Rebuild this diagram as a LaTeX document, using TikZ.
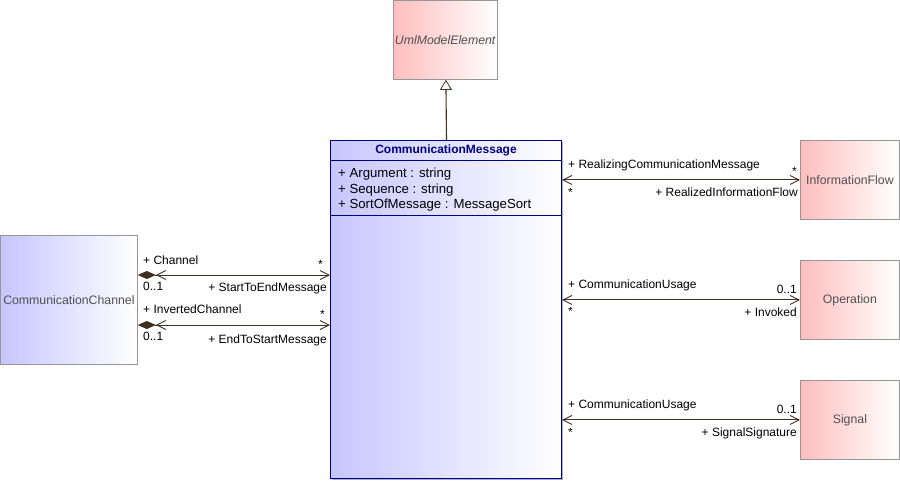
\documentclass[tikz,border=0pt]{standalone}
\usepackage{fontspec}
\setmainfont{Liberation Sans}
\usetikzlibrary{arrows.meta,calc,shadows}
\definecolor{conn}{RGB}{64,48,32}
\definecolor{pinkL}{RGB}{255,190,190}
\definecolor{blueL}{RGB}{198,198,255}
\definecolor{navyc}{RGB}{0,0,128}
\definecolor{txtgray}{RGB}{80,80,80}
\definecolor{boxgray}{RGB}{150,150,150}
\definecolor{shadc}{RGB}{150,150,210}
\begin{document}
\begin{tikzpicture}[x=1pt,y=-1pt,
  cls/.style={draw=boxgray, line width=0.8pt, anchor=north west, inner sep=0pt,
    font=\fontsize{12.3}{14}\selectfont, text=txtgray},
  pinkbox/.style={cls, left color=pinkL, right color=white},
  bluebox/.style={cls, left color=blueL, right color=white},
  msgbox/.style={bluebox, draw=navyc, line width=1pt,
    drop shadow={shadow xshift=1.5pt, shadow yshift=-1.5pt, fill=shadc, opacity=0.8}},
  assoc/.style={draw=conn, line width=0.9pt},
  barb/.tip={Straight Barb[length=9pt,width=9pt,line width=0.9pt]},
  lbl/.style={font=\fontsize{12}{14}\selectfont, inner sep=0pt, text=black},
  attr/.style={font=\fontsize{13.2}{15}\selectfont, inner sep=0pt, text=black, anchor=base west},
]
\useasboundingbox (0,0) rectangle (900,480);

% classes
\node[pinkbox, minimum width=104pt, minimum height=79pt] (uml) at (393,0) {\textit{UmlModelElement}};
\node[msgbox, minimum width=231pt, minimum height=338pt] (msg) at (330,140) {};
\node[pinkbox, minimum width=99pt, minimum height=79pt] (info) at (800,140) {InformationFlow};
\node[pinkbox, minimum width=99pt, minimum height=79pt] (oper) at (800,260) {Operation};
\node[pinkbox, minimum width=99pt, minimum height=79pt] (sig) at (800,380) {Signal};
\node[bluebox, minimum width=137pt, minimum height=129pt] (chan) at (0,235) {CommunicationChannel};

% compartments of CommunicationMessage
\draw[navyc, line width=0.8pt] ($(msg.north west)+(0,20)$) -- ($(msg.north east)+(0,20)$);
\draw[navyc, line width=0.8pt] ($(msg.north west)+(0,75)$) -- ($(msg.north east)+(0,75)$);
\node[font=\bfseries\fontsize{12}{14}\selectfont, text=navyc, inner sep=0pt] (title) at ($(msg.north)+(0,10)$) {CommunicationMessage};
\node[attr] (a1) at (338,177.5) {+ Argument : string};
\node[attr] (a2) at (338,193) {+ Sequence : string};
\node[attr] (a3) at (338,208.5) {+ SortOfMessage : MessageSort};

% generalization
\draw[assoc, line width=1.1pt, -{Triangle[open,length=10pt,width=12pt,fill=white,line width=0.8pt]}] ($(msg.north)+(0.5,0)$) -- ($(uml.south)+(0.5,0)$);

% associations
\draw[assoc, barb-barb] (msg.east |- info.west) -- (info.west);
\draw[assoc, barb-barb] (msg.east |- oper.west) -- (oper.west);
\draw[assoc, barb-barb] (msg.east |- sig.west) -- (sig.west);
\draw[assoc, {Diamond[length=18pt,width=8pt,fill=conn,line width=0.8pt] barb}-barb] (chan.east |- 0,275) -- (msg.west |- 0,275);
\draw[assoc, {Diamond[length=18pt,width=8pt,fill=conn,line width=0.8pt] barb}-barb] (chan.east |- 0,325) -- (msg.west |- 0,325);

% labels: InformationFlow
\node[lbl, anchor=base west] (l1) at (568,168.5) {+ RealizingCommunicationMessage};
\node[lbl, anchor=base east] (l2) at (797,175.5) {*};
\node[lbl, anchor=base west] (l3) at (568,196.5) {*};
\node[lbl, anchor=base east] (l4) at (798,196) {+ RealizedInformationFlow};

% labels: Channel
\node[lbl, anchor=base west] (l5) at (143,264.5) {+ Channel};
\node[lbl, anchor=base east] (l6) at (323,268.5) {*};
\node[lbl, anchor=base west] (l7) at (143,290) {0..1};
\node[lbl, anchor=base east] (l8) at (327,291) {+ StartToEndMessage};
\node[lbl, anchor=base west] (l9) at (143,313.5) {+ InvertedChannel};
\node[lbl, anchor=base east] (l10) at (325,318) {*};
\node[lbl, anchor=base west] (l11) at (143,340) {0..1};
\node[lbl, anchor=base east] (l12) at (327,343) {+ EndToStartMessage};

% labels: Operation
\node[lbl, anchor=base west] (l13) at (568,288.5) {+ CommunicationUsage};
\node[lbl, anchor=base east] (l14) at (797,293) {0..1};
\node[lbl, anchor=base west] (l15) at (568,315) {*};
\node[lbl, anchor=base east] (l16) at (797,316) {+ Invoked};

% labels: Signal
\node[lbl, anchor=base west] (l17) at (568,408.5) {+ CommunicationUsage};
\node[lbl, anchor=base east] (l18) at (797,413) {0..1};
\node[lbl, anchor=base west] (l19) at (568,436) {*};
\node[lbl, anchor=base east] (l20) at (797,436) {+ SignalSignature};
\end{tikzpicture}
\end{document}
